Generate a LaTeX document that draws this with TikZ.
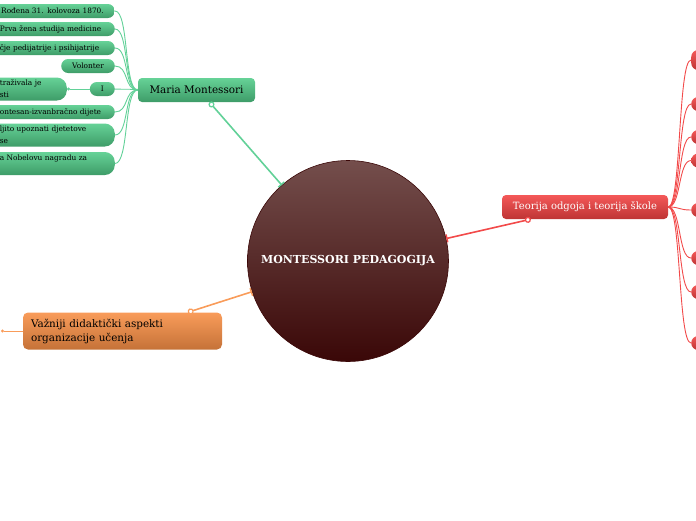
\documentclass[tikz,border=0pt]{standalone}
\usepackage{fontspec}
\setmainfont{DejaVu Serif}
\usetikzlibrary{arrows.meta, calc}

\definecolor{greenTop}{HTML}{66D297}
\definecolor{greenBot}{HTML}{3E9C68}
\definecolor{greenLine}{HTML}{62D198}
\definecolor{redTop}{HTML}{F45858}
\definecolor{redBot}{HTML}{BE3434}
\definecolor{redLine}{HTML}{F24A4A}
\definecolor{orangeTop}{HTML}{F99C5A}
\definecolor{orangeBot}{HTML}{C57238}
\definecolor{orangeLine}{HTML}{F99C5A}
\definecolor{coreTop}{HTML}{744E4C}
\definecolor{coreBot}{HTML}{3A0707}

\begin{document}
\begin{tikzpicture}[
    x=1pt, y=-1pt,
    core node/.style={circle, draw=coreBot, line width=0.6pt, minimum size=201pt,
        top color=coreTop, bottom color=coreBot, text=white,
        font=\fontsize{11}{13}\selectfont\bfseries},
    main node/.style={rounded corners=4pt, minimum height=24pt, inner xsep=8pt},
    green leaf/.style={rounded corners=7pt, top color=greenTop, bottom color=greenBot,
        minimum height=14pt, inner xsep=11pt, inner ysep=0pt, anchor=east,
        font=\fontsize{7.4}{12}\selectfont},
    tall leaf/.style={minimum height=23pt, rounded corners=10pt},
    cut right/.style={text width=120pt, align=right},
    cut left/.style={text width=104pt, align=left},
    red leaf/.style={rounded corners=7pt, top color=redTop, bottom color=redBot,
        minimum width=30pt, minimum height=14pt, anchor=west},
    green link/.style={draw=greenLine, line width=0.9pt},
    red link/.style={draw=redLine, line width=0.9pt},
    main link/.style={line width=1.6pt,
        {Circle[fill=white, length=6pt, width=6pt, line width=1.2pt]}-{Bar[width=8pt, line width=1.4pt]}}
]
\useasboundingbox (0,0) rectangle (696,520);

% Central topic
\node[core node] (center) at (348,261) {MONTESSORI PEDAGOGIJA};

% Main topics
\node[main node, top color=greenTop, bottom color=greenBot,
      minimum width=117pt, font=\fontsize{10.4}{12}\selectfont] (maria) at (196.5,90) {Maria Montessori};
\node[main node, top color=redTop, bottom color=redBot, text=white,
      minimum width=166pt, font=\fontsize{10}{12}\selectfont] (teorija) at (585,207) {Teorija odgoja i teorija škole};
\node[main node, top color=orangeTop, bottom color=orangeBot, rounded corners=5pt,
      minimum width=199pt, minimum height=37pt, text width=183pt, align=left,
      font=\fontsize{10.4}{14}\selectfont] (vazniji) at (122.5,331) {Važniji didaktički aspekti\\organizacije učenja};

% Main links to the centre
\draw[main link, greenLine] ($(maria.south)+(13,0)$) -- (center);
\draw[main link, redLine] ($(teorija.south west)+(29,0)$) -- (center);
\draw[main link, orangeLine] ($(vazniji.north west)+(165,0)$) -- (center);

% Maria Montessori subtopics
\node[green leaf, cut right] (m1) at (115,11) {Rođena 31. kolovoza 1870.};
\node[green leaf, cut left] (m2) at (115,29) {Prva žena studija medicine};
\node[green leaf, cut left] (m3) at (115,48) {čje pedijatrije i psihijatrije};
\node[green leaf] (m4) at (115,66) {Volonter};
\node[green leaf, minimum width=25pt, inner xsep=0pt] (m5) at (115,89) {I};
\node[green leaf, tall leaf, text width=56pt, align=left] (m5b) at (67,89) {traživala je\\sti};
\node[green leaf, cut left] (m6) at (115,112) {ontesan-izvanbračno dijete};
\node[green leaf, tall leaf, cut left] (m7) at (115,135) {ljito upoznati djetetove\\se};
\node[green leaf, tall leaf, cut left] (m8) at (115,163.5) {a Nobelovu nagradu za\\\mbox{}};

\foreach \c in {m1,m2,m3,m4,m6,m7,m8}
    \draw[green link] (maria.west) .. controls +(-14,0) and +(14,0) .. (\c.east);
\draw[green link] (maria) -- (m5);
\draw[green link, -{Circle[length=3pt]}] (m5) -- (m5b);

% Teorija subtopics (cut at the right edge)
\node[red leaf, minimum height=20pt] (t1) at (691,60) {};
\node[red leaf] (t2) at (691,104) {};
\node[red leaf] (t3) at (691,137) {};
\node[red leaf] (t4) at (691,160.5) {};
\node[red leaf] (t5) at (691,210) {};
\node[red leaf] (t6) at (691,258) {};
\node[red leaf] (t7) at (691,292) {};
\node[red leaf] (t8) at (691,343) {};

\foreach \c in {t1,t2,t3,t4,t5,t6,t7,t8}
    \draw[red link] (teorija.east) .. controls +(13,0) and +(-13,0) .. (\c.west);

% Orange branch leaving to the left
\coordinate (oend) at (1,331);
\draw[draw=orangeLine, line width=0.9pt, -{Circle[open, length=3pt]}] (vazniji.west) -- (oend);

\end{tikzpicture}
\end{document}
